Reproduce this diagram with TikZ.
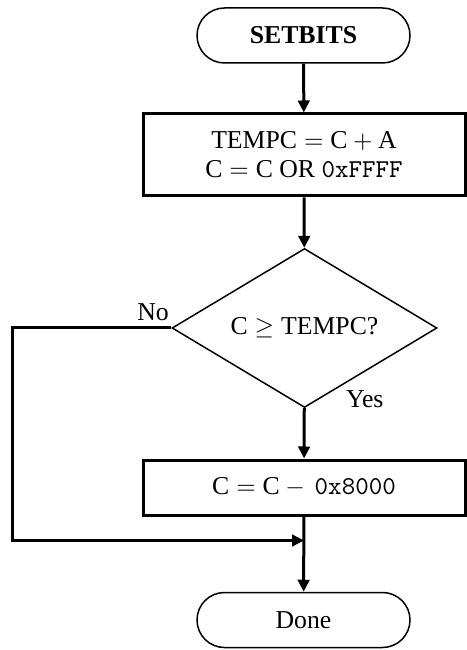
\documentclass[tikz,border=0pt]{standalone}
\usepackage{fontspec}
\setmainfont{Liberation Serif}
\usetikzlibrary{shapes.geometric,arrows.meta}
\begin{document}
\begin{tikzpicture}[
  x=.4pt,y=-.4pt,
  font=\fontsize{10.3}{11.6}\selectfont,
  term/.style={draw,line width=.6pt,rounded corners=11pt,
    minimum width=85.2pt,minimum height=22pt,inner sep=0pt},
  proc/.style={draw,line width=1.2pt,minimum width=128.8pt,
    inner sep=0pt,align=center},
  cond/.style={draw,diamond,line width=.6pt,aspect=1.67,
    minimum width=106pt,minimum height=63.6pt,inner sep=0pt},
  flow/.style={line width=1.2pt,-{Triangle[length=4.8pt,width=4.6pt]}},
  lbl/.style={inner sep=0pt}
]
  \path[use as bounding box] (0,0) rectangle (466,650);
  \node[term] (start) at (303.5,35.5) {\textbf{SETBITS}};
  \node[proc,minimum height=32.8pt] (init) at (304,155)
    {TEMPC${}={}$C${}+{}$A\\C${}={}$C OR \texttt{0xFFFF}};
  \node[cond] (test) at (304.5,328) {C${}\geq{}$TEMPC?};
  \node[proc,minimum height=22pt] (sub) at (304,487.5)
    {C${}={}$C${}-{}$\,\texttt{0x8000}};
  \node[term] (done) at (303.5,620) {Done};
  \coordinate (join) at (304,540.5);
  \coordinate (bend) at (12,540.5);
  \draw[flow] (start) -- (init);
  \draw[flow] (init) -- (test);
  \draw[flow] (test) -- (sub);
  \draw[flow] (sub) -- (done);
  \draw[flow] (test.west) -| (bend) -- (join);
  \node[lbl,anchor=base east] (no) at ([shift={(-2,-7)}]test.west) {No};
  \node[lbl,anchor=base west] (yes) at ([shift={(41,-1)}]test.south) {Yes};
\end{tikzpicture}
\end{document}
